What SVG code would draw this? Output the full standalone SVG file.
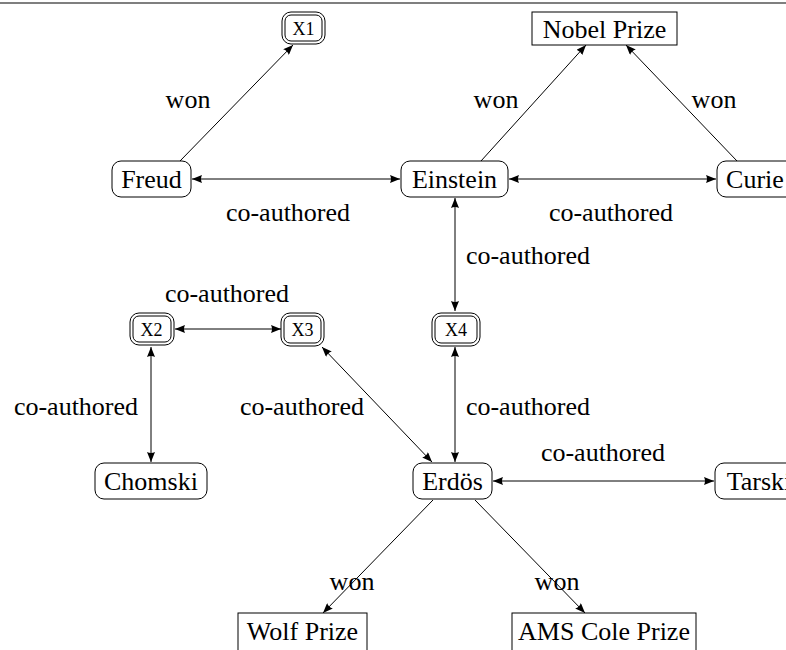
<svg xmlns="http://www.w3.org/2000/svg" width="786" height="650" viewBox="0 0 786 650">
<style>
text{font-family:"Liberation Serif","Times New Roman",serif;font-size:26px;fill:#000;text-anchor:middle}
.sc{font-size:18px}
.box{fill:#fff;stroke:#000;stroke-width:1}
.e{stroke:#000;stroke-width:1;fill:none}
.a{marker-end:url(#ah)}
.b{marker-start:url(#ah);marker-end:url(#ah)}
</style>
<defs>
<marker id="ah" viewBox="0 0 10 8" refX="10" refY="4" markerWidth="10" markerHeight="8" markerUnits="userSpaceOnUse" orient="auto-start-reverse">
<path d="M0,0 L10,4 L0,8 Q2,4 0,0 z" fill="#000"/>
</marker>
</defs>
<line x1="0" y1="3" x2="786" y2="3" stroke="#000" stroke-width="1.2"/>
<g id="connectors">
<line class="e a" x1="180" y1="161" x2="293" y2="45"/>
<line class="e a" x1="481" y1="161" x2="586" y2="45"/>
<line class="e a" x1="737" y1="161" x2="626" y2="45"/>
<line class="e b" x1="192" y1="179" x2="400" y2="179"/>
<line class="e b" x1="509" y1="179" x2="716" y2="179"/>
<line class="e b" x1="455" y1="198" x2="455" y2="311"/>
<line class="e b" x1="175" y1="329" x2="281" y2="329"/>
<line class="e b" x1="151" y1="347" x2="151" y2="462"/>
<line class="e b" x1="322" y1="347" x2="432" y2="462"/>
<line class="e b" x1="455" y1="347" x2="455" y2="462"/>
<line class="e b" x1="493" y1="481" x2="714" y2="481"/>
<line class="e a" x1="433" y1="500" x2="323" y2="613"/>
<line class="e a" x1="475" y1="500" x2="585" y2="613"/>
<text x="188" y="108">won</text>
<text x="496" y="108">won</text>
<text x="714" y="108">won</text>
<text x="288" y="221">co-authored</text>
<text x="611" y="221">co-authored</text>
<text x="528" y="264">co-authored</text>
<text x="227" y="302">co-authored</text>
<text x="76" y="415">co-authored</text>
<text x="302" y="415">co-authored</text>
<text x="528" y="415">co-authored</text>
<text x="603" y="461">co-authored</text>
<text x="352" y="590">won</text>
<text x="557" y="590">won</text>
</g>
<g id="x1">
<rect class="box" x="282" y="12" width="43" height="32" rx="9"/>
<rect class="box" x="285" y="15" width="37" height="26" rx="6"/>
<text class="sc" x="303.5" y="34.5">X1</text>
</g>
<g id="nobel">
<rect class="box" x="532" y="12" width="145" height="33"/>
<text x="604.5" y="38">Nobel Prize</text>
</g>
<g id="freud">
<rect class="box" x="112" y="161" width="79" height="36" rx="9"/>
<text x="151.5" y="188">Freud</text>
</g>
<g id="einstein">
<rect class="box" x="401" y="161" width="107" height="36" rx="9"/>
<text x="454.5" y="188">Einstein</text>
</g>
<g id="curie">
<rect class="box" x="717" y="161" width="80" height="36" rx="9"/>
<text x="755" y="188">Curie</text>
</g>
<g id="x2">
<rect class="box" x="130" y="313" width="44" height="32" rx="9"/>
<rect class="box" x="133" y="316" width="38" height="26" rx="6"/>
<text class="sc" x="151.5" y="335.5">X2</text>
</g>
<g id="x3">
<rect class="box" x="281" y="313" width="43" height="33" rx="9"/>
<rect class="box" x="284" y="316" width="37" height="27" rx="6"/>
<text class="sc" x="302.5" y="335.5">X3</text>
</g>
<g id="x4">
<rect class="box" x="432" y="313" width="48" height="33" rx="9"/>
<rect class="box" x="435" y="316" width="42" height="27" rx="6"/>
<text class="sc" x="456" y="335.5">X4</text>
</g>
<g id="chomski">
<rect class="box" x="95" y="463" width="112" height="36" rx="9"/>
<text x="151" y="490">Chomski</text>
</g>
<g id="erdos">
<rect class="box" x="413" y="463" width="79" height="36" rx="9"/>
<text x="452.5" y="490">Erdös</text>
</g>
<g id="tarski">
<rect class="box" x="715" y="463" width="90" height="36" rx="9"/>
<text x="759" y="490">Tarski</text>
</g>
<g id="wolf">
<rect class="box" x="238" y="613" width="129" height="50"/>
<text x="302.5" y="640">Wolf Prize</text>
</g>
<g id="ams">
<rect class="box" x="512" y="613" width="184" height="50"/>
<text x="604" y="640">AMS Cole Prize</text>
</g>
</svg>
